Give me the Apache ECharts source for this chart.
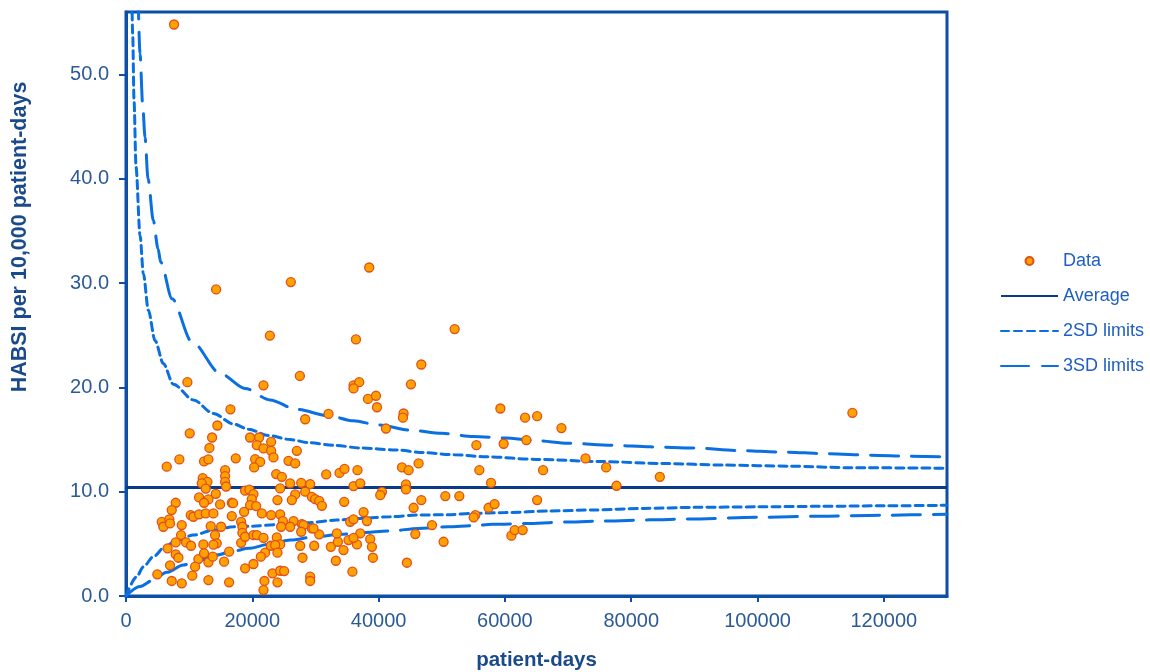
<!DOCTYPE html>
<html>
<head>
<meta charset="utf-8">
<script src="https://cdn.jsdelivr.net/npm/echarts@6/dist/echarts.min.js"></script>
<style>
html,body{margin:0;padding:0;background:#fff;}
#chart{width:1150px;height:672px;}
</style>
</head>
<body>
<div id="chart"></div>
<script>
// ---- Data ----
const patientDays = [
  9720,16540,14470,10090,13630,13210,8450,6450,12360,13050,17380,15690,15690,15690,15850,12150,12890,12000,12630,18860,
  19540,14220,11570,13050,12360,14900,16750,16950,7870,7240,18700,10250,10670,11570,12630,13840,5660,6860,5910,6970,
  8830,13420,15060,16750,18230,18430,18430,8720,7870,9510,10300,12250,14100,14370,13840,6590,7870,8300,11460,12360,
  13050,13740,10940,15530,16330,18230,18860,6970,4960,7240,8830,10490,13050,16330,18860,
  21770,36030,36930,36030,38310,28370,32070,19650,21080,20720,22980,21770,22980,23350,27050,20450,21240,20290,25730,26790,
  23780,24680,31700,33810,34600,36650,36030,37090,24410,25990,27740,29160,20180,19920,19650,20610,23980,26790,26260,28370,
  29430,29950,30590,31020,34550,37620,38150,21510,22980,24410,24840,26530,27850,29430,30590,24570,25990,28110,27740,29690,
  35500,36030,20180,20720,21770,23880,22930,24410,23620,27580,29800,23980,22030,21350,20180,27950,32440,33550,33390,34440,
  35230,36570,37090,36030,33230,23190,24410,25040,23980,21920,21770,29160,29160,35850,
  38510,52040,36410,46760,45120,39580,39740,43950,43850,41160,55480,43700,44750,46330,55950,57800,44330,44330,40530,40260,
  46760,45540,50560,52780,57410,58360,55320,55050,48450,45810,50290,38670,38940,39100,44480,
  59280,63190,65100,68950,59800,63400,72760,66040,76030,84530,77670,65100,61020,61550,62810,
  14270,26100,22780,27530,7610,115020
];
const habsiRates = [
  20.5,17.9,16.35,15.6,15.2,14.2,13.1,12.4,12.9,13.1,13.2,12.07,11.5,10.95,10.5,11.3,10.95,10.8,10.3,10.1,
  10.2,9.8,9.45,9.26,8.94,8.78,8.94,8.9,8.94,8.24,8.07,7.76,7.6,7.83,7.92,7.92,7.1,7.35,6.64,6.96,
  6.8,6.7,6.64,7.66,7.1,6.64,6.06,5.84,5.14,5.14,4.82,4.95,5.84,5.05,4.92,4.57,4.0,3.67,3.54,4.09,
  3.23,3.77,2.81,3.29,4.25,5.1,5.68,2.94,2.08,1.44,1.22,1.95,1.53,1.31,2.65,
  20.2,20.2,20.5,19.9,18.9,16.95,17.46,15.2,15.2,14.46,14.78,14.15,13.92,13.29,13.92,13.12,12.86,12.33,12.96,12.71,
  11.69,11.43,11.66,11.8,12.19,12.07,10.54,10.8,10.32,10.8,10.85,10.73,9.77,9.29,8.72,8.62,9.2,9.74,9.2,10.0,
  9.51,9.29,9.13,8.65,9.03,8.05,7.18,7.92,7.76,7.83,7.18,7.18,6.9,6.48,5.91,6.64,6.64,6.8,6.16,6.48,
  7.12,7.35,5.84,5.84,5.58,5.62,4.82,4.95,4.89,4.82,4.82,4.15,4.15,3.77,3.07,3.67,4.72,5.2,6.0,4.4,
  5.36,4.95,6.0,5.58,3.38,2.17,2.42,2.39,1.31,1.44,0.57,1.85,1.44,2.33,
  31.5,25.6,24.6,22.2,20.3,19.2,18.1,17.5,17.1,16.06,14.46,12.33,12.07,12.71,12.07,10.85,10.7,10.22,9.99,9.67,
  9.2,8.46,9.58,9.58,8.46,8.81,7.76,7.54,6.8,5.94,5.2,5.46,4.72,3.67,3.19,
  17.98,17.1,17.24,16.1,14.6,14.95,13.19,12.07,12.33,11.43,10.57,9.2,5.78,6.32,6.32,
  29.4,30.1,24.97,21.1,54.8,17.56
];
const averageRate = 10.4;

// limit curves: [patient-days, rate]
const upper2SD = [[900,58.5],[1060,53.9],[1270,47.5],[1590,41.1],[2220,34.6],[2750,30.9],[3540,27.4],[4600,24.5],[5910,22.3],[7500,20.3],[10670,18.8],[13840,17.5],[17010,16.5],[19390,16.0],[22500,15.4],[26000,15.0],[29000,14.7],[33000,14.45],[37000,14.2],[42800,14.0],[47000,13.75],[52000,13.55],[57000,13.35],[65000,13.1],[75000,12.9],[85000,12.7],[95000,12.55],[105000,12.45],[115000,12.3],[130000,12.25]];
const lower2SD = [[0,0],[1690,1.85],[2750,2.8],[4330,3.77],[6180,4.72],[8040,5.36],[10670,5.84],[13840,6.32],[17010,6.64],[20000,6.7],[24000,6.85],[28640,7.02],[33390,7.28],[37090,7.44],[41800,7.6],[46000,7.76],[51000,7.8],[55000,7.92],[60000,8.0],[67000,8.15],[74000,8.25],[82000,8.4],[90000,8.5],[100000,8.55],[110000,8.6],[120000,8.65],[130000,8.7]];
const upper3SD = [[1900,58],[2220,52],[2650,47],[3010,44],[3490,40],[4330,36],[5070,33.3],[5500,32],[7300,28.5],[10400,24.4],[15000,21.3],[18860,19.9],[22800,18.8],[27000,17.9],[32000,17.3],[36000,16.8],[40000,16.4],[45000,15.9],[50000,15.6],[55000,15.3],[60000,15.15],[65000,14.9],[70000,14.65],[77000,14.45],[83000,14.3],[90000,14.2],[97000,13.95],[104000,13.8],[111000,13.65],[118000,13.5],[124000,13.4],[130000,13.35]];
const lower3SD = [[0,0],[2220,0.9],[4330,1.53],[6450,2.27],[9080,2.97],[11730,3.45],[14370,3.93],[17010,4.31],[19390,4.57],[23000,5.0],[26000,5.36],[30000,5.68],[34000,5.91],[37000,6.06],[42000,6.25],[46300,6.48],[51000,6.64],[55000,6.75],[58000,6.87],[64000,6.96],[70000,7.1],[76000,7.2],[83000,7.3],[89000,7.38],[100000,7.55],[110000,7.65],[120000,7.75],[130000,7.85]];

const xTicks = [0,20000,40000,60000,80000,100000,120000];
const yTicks = [0,10,20,30,40,50];
const xTitle = 'patient-days';
const yTitle = 'HABSI per 10,000 patient-days';

// ---- Chart ----
const scatterData = patientDays.map((d,i)=>[d,habsiRates[i]]);
const FONT = '"Liberation Sans", Arial, sans-serif';
const frameColor = '#0d4ea6';
const limitColor = '#0a6fe0';
const avgColor = '#0b3a86';
const titleColor = '#1a4a8c';

const chart = echarts.init(document.getElementById('chart'), null, {renderer:'canvas'});
const limitLine = (name, data, dash) => ({
  name, type:'line', data, symbol:'none', showSymbol:false, smooth:0.3, smoothMonotone:'x',
  lineStyle:{color:limitColor, width:3, type:dash, cap:'round'}, itemStyle:{color:limitColor},
  z:2, silent:true, clip:true
});
chart.setOption({
  animation:false,
  backgroundColor:'#ffffff',
  textStyle:{fontFamily:FONT},
  grid:{left:126, right:203, top:12, bottom:76, show:true, borderColor:frameColor, borderWidth:3,
    containLabel:false, outerBoundsMode:'none'},
  graphic:[{
    type:'text', x:20, y:237, rotation:Math.PI/2,
    style:{text:yTitle, fontFamily:FONT, fontWeight:'bold', fontSize:21.5, fill:titleColor,
      align:'center', verticalAlign:'middle'}
  }],
  xAxis:{
    type:'value', min:0, max:130000,
    name:xTitle, nameLocation:'middle', nameGap:54,
    nameTextStyle:{fontFamily:FONT, fontWeight:'bold', fontSize:20.5, color:titleColor},
    axisLine:{show:true, onZero:false, lineStyle:{color:frameColor, width:3}},
    axisTick:{show:true, length:6, lineStyle:{color:frameColor, width:2}, customValues:xTicks},
    axisLabel:{fontFamily:FONT, fontSize:20, color:'#2b5a96', margin:15, customValues:xTicks,
      formatter:v=>String(v)},
    splitLine:{show:false}
  },
  yAxis:{
    type:'value', min:0, max:56,
    axisLine:{show:true, onZero:false, lineStyle:{color:frameColor, width:3}},
    axisTick:{show:true, length:7, lineStyle:{color:frameColor, width:2}, customValues:yTicks},
    axisLabel:{fontFamily:FONT, fontSize:20, color:'#2b5a96', margin:17, customValues:yTicks,
      formatter:v=>v.toFixed(1)},
    splitLine:{show:false}
  },
  legend:{
    orient:'vertical', left:1000, top:252, padding:0, itemWidth:57, itemHeight:8, itemGap:17,
    textStyle:{fontFamily:FONT, fontSize:18, color:'#1f5fbf'},
    data:[
      {name:'Data'},
      {name:'Average', itemStyle:{opacity:0}},
      {name:'2SD limits', itemStyle:{opacity:0}},
      {name:'3SD limits', itemStyle:{opacity:0}}
    ]
  },
  series:[
    {name:'Average', type:'line', data:[[0,averageRate],[130000,averageRate]], symbol:'none', showSymbol:false,
      lineStyle:{color:avgColor, width:3}, itemStyle:{color:avgColor}, z:3, silent:true},
    limitLine('2SD limits', upper2SD, [8,5]),
    limitLine('2SD limits', lower2SD, [8,5]),
    limitLine('3SD limits', upper3SD, [28,13]),
    limitLine('3SD limits', lower3SD, [28,13]),
    {name:'Data', type:'scatter', data:scatterData, symbol:'circle', symbolSize:9,
      itemStyle:{color:'#ffa200', borderColor:'#e0501a', borderWidth:1.3, opacity:1}, z:5}
  ]
});
</script>
</body>
</html>
